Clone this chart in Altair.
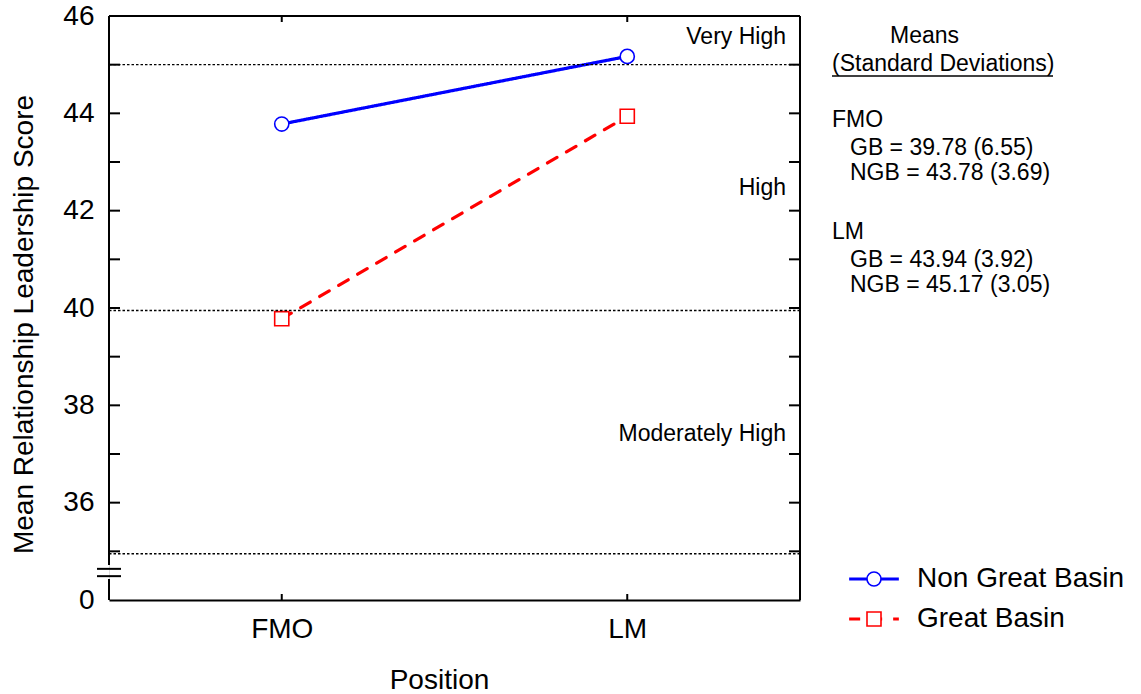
import altair as alt
import pandas as pd

# ---------------- data ----------------
positions = ["FMO", "LM"]
series_names = ["Non Great Basin", "Great Basin"]
means_ngb = [43.78, 45.17]
means_gb = [39.78, 43.94]
sd_ngb = [3.69, 3.05]
sd_gb = [6.55, 3.92]
band_labels = ["Very High", "High", "Moderately High"]
band_label_y = [45.56, 42.47, 37.42]
band_cutoffs = [45.0, 39.95, 34.95]
y_tick_values = [34, 36, 38, 40, 42, 44, 46]
minor_ticks = list(range(35, 46))

W, H = 691, 584
OX, OY = 109, 16          # plot origin inside the page
FONT = "Liberation Sans"

df = pd.DataFrame({
    "Position": positions * 2,
    "Group": [series_names[0]] * 2 + [series_names[1]] * 2,
    "Score": means_ngb + means_gb,
})
one = pd.DataFrame({"k": [0]})
df_cut = pd.DataFrame({"v": band_cutoffs})
df_band = pd.DataFrame({"label": band_labels, "y": band_label_y})
df_ticks = pd.DataFrame({"v": minor_ticks})
df_xt = pd.DataFrame({"Position": positions})
df_break = pd.DataFrame({"v": [34.64, 34.49]})

xs = alt.Scale(type="point", domain=positions, padding=0.5)
ys = alt.Scale(domain=[34, 46], nice=False, zero=False)
color_scale = alt.Scale(domain=series_names, range=["#0000ff", "#ff0000"])
dash_scale = alt.Scale(domain=series_names, range=[[1, 0], [11, 11]])
shape_scale = alt.Scale(domain=series_names, range=["circle", "square"])

yaxis = alt.Axis(
    values=y_tick_values,
    labelExpr="datum.value == 34 ? '0' : datum.label",
    domain=False, ticks=False, grid=False, labelFlush=False, labelOverlap=False,
    labelPadding=15, labelFontSize=28, labelFont=FONT, labelColor="black",
    title="Mean Relationship Leadership Score", titleFontSize=28, titleFont=FONT,
    titleFontWeight="normal", titleColor="black",
    titleX=-77, titleY=308, titleAngle=270, titleAlign="center",
    titleBaseline="alphabetic",
)
xaxis = alt.Axis(
    domain=True, domainColor="black", domainWidth=2, ticks=False, grid=False,
    labelFontSize=28, labelFont=FONT, labelColor="black", labelPadding=15,
    labelAngle=0,
    title="Position", titleFontSize=28, titleFont=FONT, titleFontWeight="normal",
    titleColor="black", titleX=330, titleY=88, titleBaseline="alphabetic",
    titleAlign="center",
)

leg_common = dict(
    orient="none", legendX=751, legendY=549, title=None,
    labelFontSize=28, labelFont=FONT, labelColor="black", labelLimit=400,
    symbolSize=196, rowPadding=12, padding=0, labelOffset=29,
)
line_leg = alt.Legend(symbolType="M-3.55,0L3.55,0", symbolStrokeWidth=3, **leg_common)
point_leg = alt.Legend(symbolStrokeWidth=1.6, symbolFillColor="white",
                       labelOpacity=0, **leg_common)

X = lambda f: alt.X(f, scale=xs, axis=xaxis)
Y = lambda f: alt.Y(f, scale=ys, axis=yaxis)

# ---------------- layers ----------------
lines = alt.Chart(df).mark_line(strokeWidth=3.2, strokeCap="round").encode(
    x=X("Position:N"),
    y=Y("Score:Q"),
    color=alt.Color("Group:N", scale=color_scale, legend=line_leg),
    strokeDash=alt.StrokeDash("Group:N", scale=dash_scale, legend=line_leg),
    detail="Group:N",
)

points = alt.Chart(df).mark_point(
    filled=False, fill="white", size=200, strokeWidth=1.6, opacity=1
).encode(
    x=X("Position:N"),
    y=Y("Score:Q"),
    color=alt.Color("Group:N", scale=color_scale, legend=point_leg),
    shape=alt.Shape("Group:N", scale=shape_scale, legend=point_leg),
)

cut_rules = alt.Chart(df_cut).mark_rule(
    color="black", strokeWidth=1.4, strokeDash=[2.5, 2]
).encode(y=Y("v:Q"))

band_text = alt.Chart(df_band).mark_text(
    align="right", baseline="middle", fontSize=23, font=FONT, color="black"
).encode(
    x=alt.value(W - 14),
    y=Y("y:Q"),
    text="label:N",
)

frame_top = alt.Chart(one).mark_rule(color="black", strokeWidth=2).encode(
    x=alt.value(0), x2=alt.value(W), y=alt.value(0))
frame_right = alt.Chart(one).mark_rule(color="black", strokeWidth=2).encode(
    x=alt.value(W), y=alt.value(0), y2=alt.value(H))
frame_left_a = alt.Chart(one).mark_rule(color="black", strokeWidth=2).encode(
    x=alt.value(0), y=alt.Y(datum=46, scale=ys, axis=yaxis), y2=alt.Y2(datum=34.72))
frame_left_b = alt.Chart(one).mark_rule(color="black", strokeWidth=2).encode(
    x=alt.value(0), y=alt.Y(datum=34.43, scale=ys, axis=yaxis), y2=alt.Y2(datum=34))
breaks = alt.Chart(df_break).mark_rule(color="black", strokeWidth=2).encode(
    x=alt.value(-12), x2=alt.value(12), y=Y("v:Q"))

ticks_left = alt.Chart(df_ticks).mark_rule(color="black", strokeWidth=2).encode(
    x=alt.value(0), x2=alt.value(11), y=Y("v:Q"))
ticks_right = alt.Chart(df_ticks).mark_rule(color="black", strokeWidth=2).encode(
    x=alt.value(W - 11), x2=alt.value(W), y=Y("v:Q"))
xt_top = alt.Chart(df_xt).mark_rule(color="black", strokeWidth=2).encode(
    x=X("Position:N"), y=alt.value(0), y2=alt.value(6))
xt_bot = alt.Chart(df_xt).mark_rule(color="black", strokeWidth=2).encode(
    x=X("Position:N"), y=alt.value(H - 6), y2=alt.value(H))

# right-hand summary text: (text, page x, page baseline y)
summary_lines = [
    ("Means", 890, 43),
    ("(Standard Deviations)", 832, 71),
    (positions[0], 832, 127),
    (f"GB = {means_gb[0]:.2f} ({sd_gb[0]:.2f})", 850, 154.5),
    (f"NGB = {means_ngb[0]:.2f} ({sd_ngb[0]:.2f})", 850, 180),
    (positions[1], 832, 239),
    (f"GB = {means_gb[1]:.2f} ({sd_gb[1]:.2f})", 850, 266.5),
    (f"NGB = {means_ngb[1]:.2f} ({sd_ngb[1]:.2f})", 850, 292),
]
text_layers = [
    alt.Chart(one).mark_text(
        text=t, align="left", baseline="alphabetic", fontSize=23, font=FONT, color="black"
    ).encode(x=alt.value(px - OX), y=alt.value(py - OY))
    for (t, px, py) in summary_lines
]
underline = alt.Chart(one).mark_rule(color="black", strokeWidth=1.5).encode(
    x=alt.value(832 - OX), x2=alt.value(1053 - OX), y=alt.value(76 - OY))

chart = alt.layer(
    lines, points, cut_rules, band_text,
    frame_top, frame_right, frame_left_a, frame_left_b, breaks,
    ticks_left, ticks_right, xt_top, xt_bot,
    *text_layers, underline,
).resolve_scale(
    color="independent", shape="independent", strokeDash="independent"
).properties(
    width=W, height=H,
    padding={"left": OX, "top": OY, "right": 1141 - OX - W, "bottom": 694 - OY - H},
    autosize=alt.AutoSizeParams(type="none"),
    background="white",
).configure_view(stroke=None).configure(font=FONT)

chart.save("out.html", embed_options={"renderer": "svg", "actions": False})
